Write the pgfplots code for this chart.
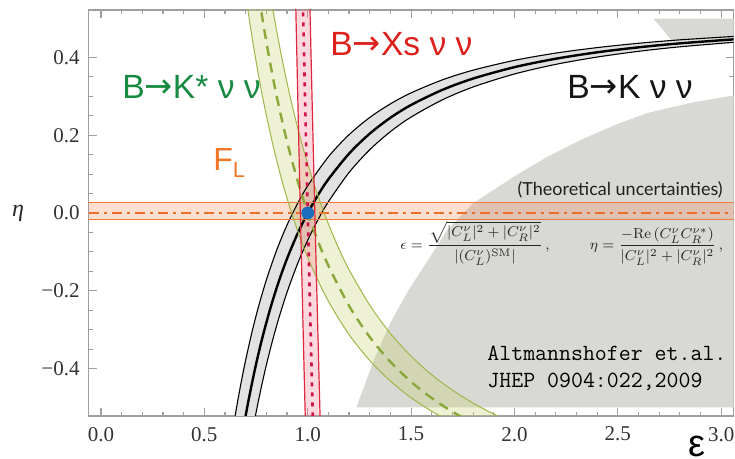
\documentclass[border=0pt]{standalone}
\usepackage[no-math]{fontspec}
\setmainfont{Liberation Serif}
\newfontfamily\arialf{Liberation Sans}
\newfontfamily\arrowf{DejaVu Sans}
\newfontfamily\gillf{Lato}
\usepackage{graphicx}
\usepackage{pgfplots}
\pgfplotsset{compat=1.18}

\definecolor{regiongray}{RGB}{216,216,212}
\definecolor{kfill}{RGB}{226,226,226}
\definecolor{kstarfill}{RGB}{200,210,110}
\definecolor{kstarline}{RGB}{160,182,72}
\definecolor{kstardash}{RGB}{138,168,58}
\definecolor{xsfill}{RGB}{240,120,140}
\definecolor{xsline}{RGB}{222,40,60}
\definecolor{xsdot}{RGB}{208,20,70}
\definecolor{flfill}{RGB}{245,140,90}
\definecolor{flline}{RGB}{240,122,62}
\definecolor{fldash}{RGB}{238,110,40}
\definecolor{smblue}{RGB}{30,110,190}
\definecolor{kstartext}{RGB}{22,138,64}
\definecolor{xstext}{RGB}{222,32,28}
\definecolor{fltext}{RGB}{240,118,38}

% decay label: B -> ... with a bold arrow
\newcommand{\ar}{{\arrowf\raisebox{0.5pt}{→}}}

\begin{document}
\begin{tikzpicture}
\begin{axis}[
  scale only axis, width=322.5pt, height=203pt,
  xmin=-0.06, xmax=3.06, ymin=-0.522, ymax=0.522,
  clip mode=individual,
  axis line style={draw=black!38, line width=0.8pt},
  xtick={0,0.5,1,1.5,2,2.5,3},
  xticklabels={0.0,0.5,1.0,1.5,2.0,2.5,3.0},
  ytick={-0.4,-0.2,0,0.2,0.4},
  yticklabels={−0.4,−0.2,0.0,0.2,0.4},
  minor x tick num=4, minor y tick num=3,
  tick align=inside,
  major tick length=4pt, minor tick length=2.2pt,
  tick style={draw=black!38, line width=0.6pt},
  tick label style={font=\fontsize{10.5}{12}\selectfont, text=black!80},
  xticklabel style={yshift=-2pt},
  yticklabel style={xshift=-1pt},
]
\coordinate (sw) at (rel axis cs:0,0);
\coordinate (ne) at (rel axis cs:1,1);

% excluded regions of the (epsilon, eta) plane
\addplot[fill=regiongray, draw=none] coordinates {
  (1.235,-0.5) (1.326,-0.37) (1.398,-0.284) (1.487,-0.199) (1.592,-0.113)
  (1.675,-0.044) (1.80,0.025) (1.993,0.092) (2.15,0.142) (2.317,0.187)
  (2.48,0.225) (2.642,0.257) (2.85,0.283) (3.067,0.303) (3.1,0.305) (3.1,-0.5)
} -- cycle;
\addplot[fill=regiongray, draw=none] coordinates {
  (2.672,0.5) (3.1,0.5) (3.1,0.44) (2.80,0.43) (2.75,0.45)
} -- cycle;

% B -> K nu nu band
\addplot[fill=kfill, draw=none, smooth] coordinates {
  (0.56,-0.8712) (0.58,-0.7782) (0.60,-0.6944) (0.62,-0.6186) (0.64,-0.5498)
  (0.66,-0.4871) (0.68,-0.4299) (0.70,-0.3776) (0.73,-0.3069) (0.76,-0.2445)
  (0.80,-0.1719) (0.85,-0.0952) (0.90,-0.0309) (0.95,0.0235) (1.00,0.07)
  (1.10,0.1446) (1.20,0.2014) (1.30,0.2456) (1.40,0.2806) (1.50,0.3089)
  (1.65,0.3421) (1.80,0.3673) (2.00,0.3925) (2.20,0.4112) (2.40,0.4253)
  (2.60,0.4364) (2.80,0.4452) (3.10,0.4553)
  (3.10,0.4407) (2.80,0.4273) (2.60,0.4157) (2.40,0.4010) (2.20,0.3822)
  (2.00,0.3575) (1.80,0.3241) (1.65,0.2906) (1.50,0.2467) (1.40,0.2092)
  (1.30,0.1627) (1.20,0.1042) (1.10,0.0289) (1.05,-0.0170) (1.00,-0.07)
  (0.95,-0.1316) (0.90,-0.2037) (0.86,-0.2707) (0.83,-0.3274) (0.80,-0.3906)
  (0.78,-0.4369) (0.76,-0.4868) (0.74,-0.5409) (0.72,-0.5995) (0.70,-0.6633)
  (0.68,-0.7327) (0.66,-0.8085)
} -- cycle;

% F_L band
\addplot[fill=flfill, fill opacity=0.28, draw=none] coordinates {
  (-0.1,-0.017) (3.1,-0.017) (3.1,0.026) (-0.1,0.026)
} -- cycle;

% B -> K* nu nu band
\addplot[fill=kstarfill, fill opacity=0.3, draw=none, smooth] coordinates {
  (0.68,0.6399) (0.70,0.5608) (0.72,0.4883) (0.74,0.4215) (0.77,0.3310)
  (0.80,0.2505) (0.84,0.1562) (0.88,0.0745) (0.92,0.0033) (0.97,-0.0737)
  (1.02,-0.1397) (1.10,-0.2271) (1.20,-0.3128) (1.30,-0.3794) (1.40,-0.4323)
  (1.50,-0.4750) (1.60,-0.5099) (1.70,-0.5389) (1.80,-0.5631) (2.00,-0.6011)
  (2.35,-0.6023) (2.20,-0.5796) (2.10,-0.5617) (2.00,-0.5410) (1.90,-0.5170)
  (1.80,-0.4888) (1.70,-0.4556) (1.60,-0.4160) (1.50,-0.3681) (1.40,-0.3097)
  (1.30,-0.2372) (1.20,-0.1458) (1.14,-0.0791) (1.08,-0.0009) (1.03,0.0749)
  (0.98,0.1626) (0.94,0.2431) (0.90,0.3346) (0.87,0.4116) (0.84,0.4970)
  (0.82,0.5592) (0.80,0.6262)
} -- cycle;

% B -> Xs nu nu band
\addplot[fill=xsfill, fill opacity=0.28, draw=none] coordinates {
  (0.9915,-0.6) (0.9777,-0.3) (0.9644,0) (0.9517,0.3) (0.9393,0.6)
  (1.0075,0.6) (1.0207,0.3) (1.0344,0) (1.0487,-0.3) (1.0635,-0.6)
} -- cycle;

% B -> K nu nu: edges and central curve
\addplot[black, line width=0.55pt, smooth] coordinates {
  (0.56,-0.8712) (0.58,-0.7782) (0.60,-0.6944) (0.62,-0.6186) (0.64,-0.5498)
  (0.66,-0.4871) (0.68,-0.4299) (0.70,-0.3776) (0.73,-0.3069) (0.76,-0.2445)
  (0.80,-0.1719) (0.85,-0.0952) (0.90,-0.0309) (0.95,0.0235) (1.00,0.07)
  (1.10,0.1446) (1.20,0.2014) (1.30,0.2456) (1.40,0.2806) (1.50,0.3089)
  (1.65,0.3421) (1.80,0.3673) (2.00,0.3925) (2.20,0.4112) (2.40,0.4253)
  (2.60,0.4364) (2.80,0.4452) (3.10,0.4553)
};
\addplot[black, line width=0.55pt, smooth] coordinates {
  (0.66,-0.8085) (0.68,-0.7327) (0.70,-0.6633) (0.72,-0.5995) (0.74,-0.5409)
  (0.76,-0.4868) (0.78,-0.4369) (0.80,-0.3906) (0.83,-0.3274) (0.86,-0.2707)
  (0.90,-0.2037) (0.95,-0.1316) (1.00,-0.07) (1.05,-0.0170) (1.10,0.0289)
  (1.20,0.1042) (1.30,0.1627) (1.40,0.2092) (1.50,0.2467) (1.65,0.2906)
  (1.80,0.3241) (2.00,0.3575) (2.20,0.3822) (2.40,0.4010) (2.60,0.4157)
  (2.80,0.4273) (3.10,0.4407)
};
\addplot[black, line width=1.2pt, smooth] coordinates {
  (0.60,-0.8889) (0.62,-0.8007) (0.64,-0.7207) (0.66,-0.6478) (0.68,-0.5813)
  (0.70,-0.5204) (0.72,-0.4645) (0.75,-0.3889) (0.78,-0.3218) (0.82,-0.2436)
  (0.86,-0.1760) (0.90,-0.1173) (0.95,-0.0540) (1.00,0) (1.05,0.0465)
  (1.10,0.0868) (1.20,0.1528) (1.30,0.2041) (1.40,0.2449) (1.50,0.2778)
  (1.65,0.3163) (1.80,0.3457) (2.00,0.375) (2.20,0.3967) (2.40,0.4132)
  (2.60,0.4260) (2.80,0.4362) (3.10,0.4480)
};

% F_L: edges and central line
\addplot[flline, line width=0.6pt] coordinates {(-0.1,0.026) (3.1,0.026)};
\addplot[flline, line width=0.6pt] coordinates {(-0.1,-0.017) (3.1,-0.017)};
\addplot[fldash, line width=1.4pt, dash pattern=on 5pt off 2.5pt on 1.5pt off 2.5pt]
  coordinates {(-0.06,0) (3.1,0)};

% B -> K* nu nu: edges and central curve
\addplot[kstarline, line width=0.5pt, smooth] coordinates {
  (0.68,0.6399) (0.70,0.5608) (0.72,0.4883) (0.74,0.4215) (0.77,0.3310)
  (0.80,0.2505) (0.84,0.1562) (0.88,0.0745) (0.92,0.0033) (0.97,-0.0737)
  (1.02,-0.1397) (1.10,-0.2271) (1.20,-0.3128) (1.30,-0.3794) (1.40,-0.4323)
  (1.50,-0.4750) (1.60,-0.5099) (1.70,-0.5389) (1.80,-0.5631) (2.00,-0.6011)
};
\addplot[kstarline, line width=0.5pt, smooth] coordinates {
  (0.80,0.6262) (0.82,0.5592) (0.84,0.4970) (0.87,0.4116) (0.90,0.3346)
  (0.94,0.2431) (0.98,0.1626) (1.03,0.0749) (1.08,-0.0009) (1.14,-0.0791)
  (1.20,-0.1458) (1.30,-0.2372) (1.40,-0.3097) (1.50,-0.3681) (1.60,-0.4160)
  (1.70,-0.4556) (1.80,-0.4888) (1.90,-0.5170) (2.00,-0.5410) (2.10,-0.5617)
  (2.20,-0.5796) (2.35,-0.6023)
};
\addplot[kstardash, line width=1.2pt, dash pattern=on 5pt off 3.5pt, smooth] coordinates {
  (0.74,0.6455) (0.76,0.5713) (0.78,0.5029) (0.80,0.4395) (0.83,0.3528)
  (0.86,0.2751) (0.90,0.1833) (0.95,0.0844) (1.00,0) (1.05,-0.0727)
  (1.10,-0.1356) (1.20,-0.2388) (1.30,-0.3190) (1.40,-0.3827) (1.50,-0.4341)
  (1.60,-0.4761) (1.70,-0.5109) (1.80,-0.5402) (1.90,-0.5648) (2.00,-0.5859)
};

% B -> Xs nu nu: edges and central line
\addplot[xsline, line width=0.6pt, smooth] coordinates {
  (0.9915,-0.6) (0.9777,-0.3) (0.9644,0) (0.9517,0.3) (0.9393,0.6)};
\addplot[xsline, line width=0.6pt, smooth] coordinates {
  (1.0635,-0.6) (1.0487,-0.3) (1.0344,0) (1.0207,0.3) (1.0075,0.6)};
\addplot[xsdot, line width=1.3pt, dash pattern=on 2pt off 3pt, smooth] coordinates {
  (1.0281,-0.6) (1.0138,-0.3) (1.0,0) (0.9868,0.3) (0.9740,0.6)};

% Standard Model point
\addplot[only marks, mark=*, mark size=3pt, color=smblue] coordinates {(1,0)};

% labels
\node[anchor=base west, inner sep=0pt, font=\arialf\fontsize{16.8}{18}\selectfont, text=kstartext]
  at (axis cs:0.1016,0.2953) {B\ar K* ν ν};
\node[anchor=base west, inner sep=0pt, font=\arialf\fontsize{16}{18}\selectfont, text=fltext]
  at (axis cs:0.5418,0.1101) {F\raisebox{-3.5pt}{\fontsize{11}{12}\selectfont L}};
\node[anchor=base west, inner sep=0pt, font=\arialf\fontsize{16.8}{18}\selectfont, text=xstext]
  at (axis cs:1.1079,0.4059) {B\ar Xs ν ν};
\node[anchor=base west, inner sep=0pt, font=\arialf\fontsize{16.8}{18}\selectfont, text=black!92]
  at (axis cs:2.2545,0.2953) {B\ar K ν ν};
\node[anchor=base east, inner sep=0pt, font=\gillf\fontsize{9}{11}\selectfont, text=black!88]
  at (axis cs:3.009,0.0458) {(Theoretical uncertainties)};
\node[anchor=west, font=\fontsize{8}{10}\selectfont, text=black!85, inner sep=0pt]
  at (axis cs:1.4466,-0.0777)
  {\scalebox{0.9}{$\displaystyle \epsilon=\frac{\sqrt{|C_L^\nu|^2+|C_R^\nu|^2}}{|(C_L^\nu)^{\rm SM}|}\,,
   \hspace{21pt} \eta=\frac{-{\rm Re}\,(C_L^\nu C_R^{\nu *})}{|C_L^\nu|^2+|C_R^\nu|^2}\,,$}};
\node[anchor=base west, font=\ttfamily\fontsize{11.6}{13}\selectfont, text=black, inner sep=0pt]
  at (axis cs:1.8674,-0.3787) {Altmannshofer et.al.};
\node[anchor=base west, font=\ttfamily\fontsize{11.6}{13}\selectfont, text=black, inner sep=0pt]
  at (axis cs:1.8674,-0.4481) {JHEP 0904:022,2009};
\node[anchor=base, font=\arialf\fontsize{19}{20}\selectfont, inner sep=0pt]
  at (axis cs:2.883,-0.626) {ε};
\node[font=\fontsize{12}{14}\selectfont\itshape, text=black!85]
  at (axis cs:-0.4016,0) {η};
\end{axis}
\pgfresetboundingbox
\path ([xshift=-44.3pt,yshift=-21.5pt]sw) rectangle ([xshift=0.7pt,yshift=5pt]ne);
\end{tikzpicture}
\end{document}
